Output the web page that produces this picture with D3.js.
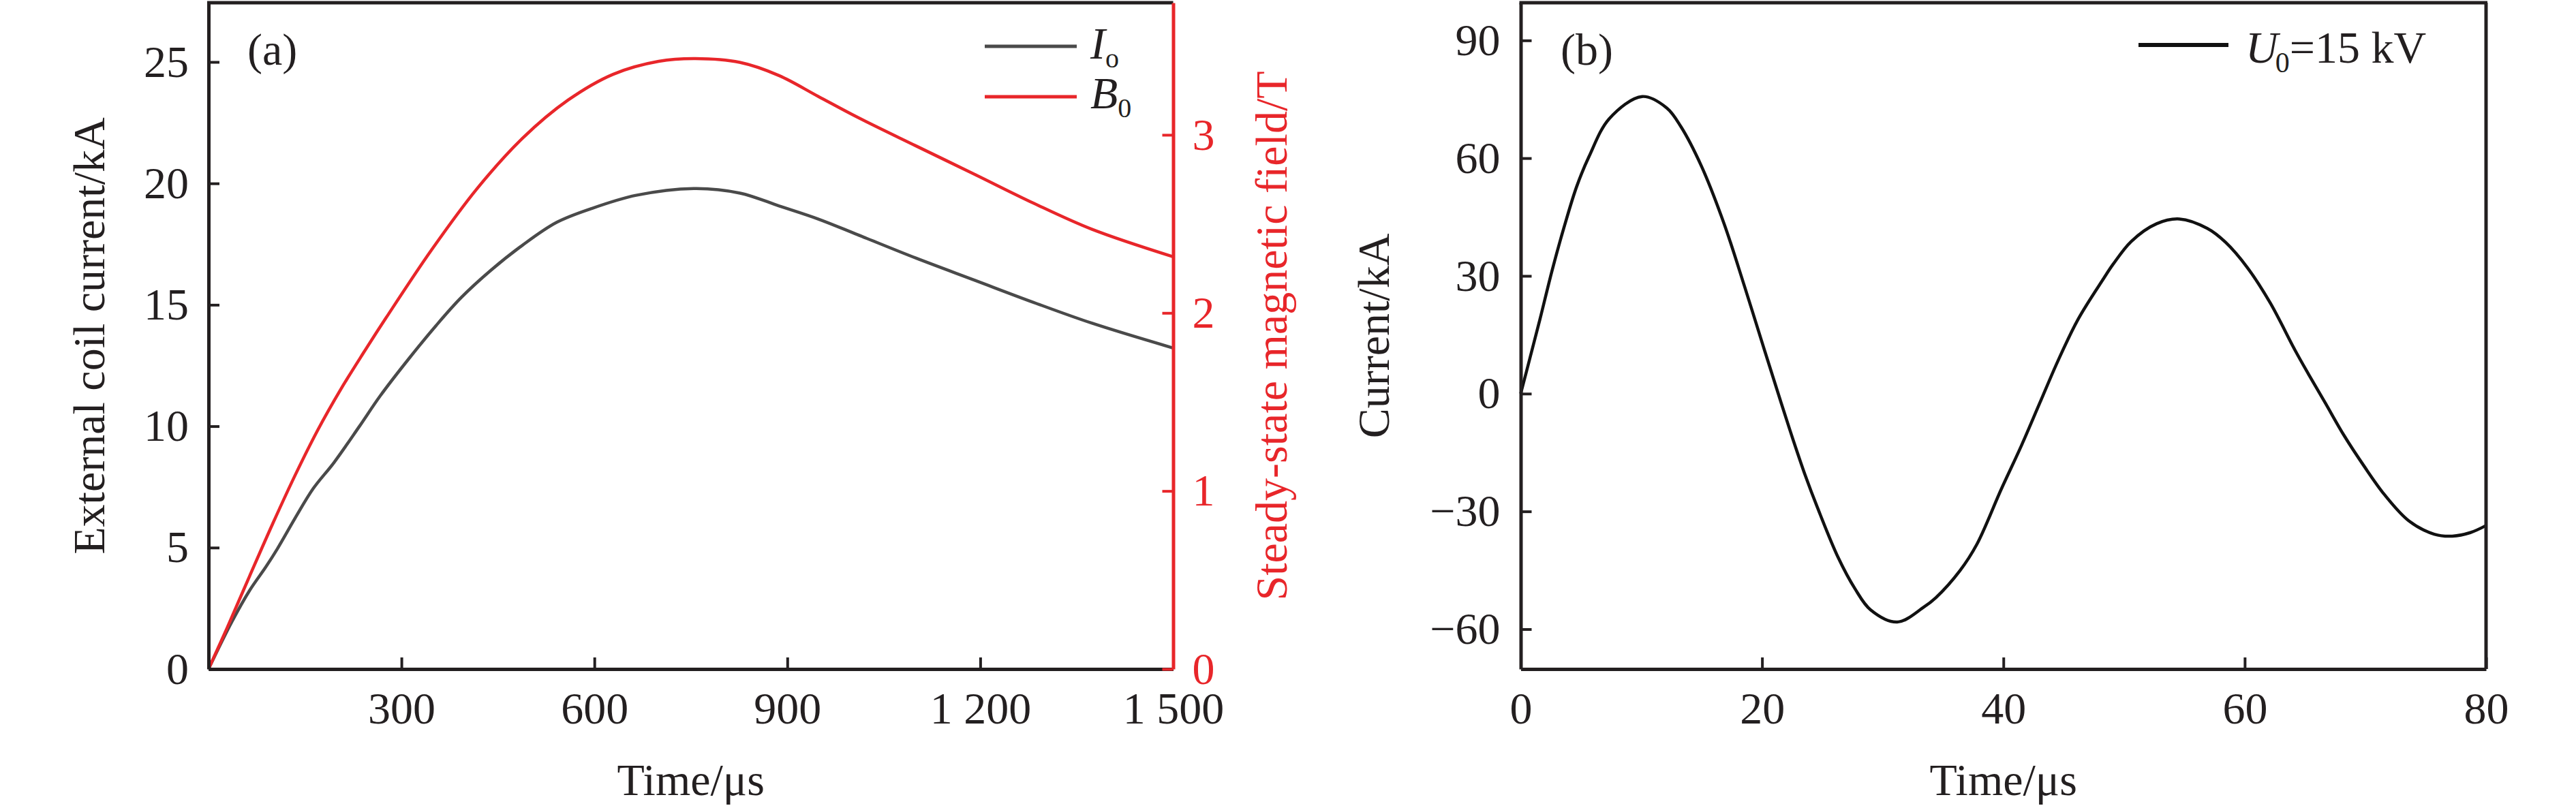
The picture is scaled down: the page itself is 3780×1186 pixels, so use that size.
<!DOCTYPE html>
<html>
<head>
<meta charset="utf-8">
<script src="https://cdn.jsdelivr.net/npm/d3@7"></script>
<style>
  html, body { margin: 0; padding: 0; background: #fff; }
  svg { display: block; }
  text { font-family: "Liberation Serif", "Times New Roman", serif; }
</style>
</head>
<body>
<svg id="chart" width="3780" height="1186"></svg>
<script>
// ---------- Data: panel (a) ----------
const ioTime = [0, 36, 64, 89, 107, 135, 163, 195, 234, 267, 311.5, 354, 393, 439, 488, 541, 594, 665, 757, 826.5, 887.4, 948.3, 1009, 1100.3, 1191.5, 1282.8, 1374, 1500];
const ioValues = [0, 1.93, 3.24, 4.2, 4.95, 6.23, 7.44, 8.5, 9.97, 11.25, 12.78, 14.15, 15.3, 16.42, 17.45, 18.39, 18.95, 19.51, 19.79, 19.6, 19.07, 18.53, 17.89, 16.92, 16.01, 15.1, 14.24, 13.22];
const bTime = [0, 29, 64, 100, 135, 170, 206, 241, 276, 347, 418, 488, 559, 629, 700, 757, 826, 887, 948, 1009, 1100, 1192, 1283, 1374, 1500];
const bValues = [0, 0.232, 0.523, 0.818, 1.091, 1.343, 1.573, 1.776, 1.972, 2.355, 2.70, 2.98, 3.195, 3.34, 3.413, 3.428, 3.407, 3.333, 3.216, 3.099, 2.938, 2.777, 2.616, 2.469, 2.315];
const xTicksA = [300, 600, 900, 1200, 1500];
const xTickLabelsA = ["300", "600", "900", "1 200", "1 500"];
const yTicksA = [0, 5, 10, 15, 20, 25];
const yTicksB0 = [0, 1, 2, 3];

// ---------- Data: panel (b) ----------
const uTime = [0, 0.75, 1.59, 2.61, 3.63, 4.64, 5.66, 7.35, 10.06, 12.1, 13.28, 14.97, 16.83, 18.53, 20.22, 21.6, 22.6, 23.6, 24.6, 26.3, 27.7, 29.0, 31.2, 33.4, 34.4, 36.4, 37.8, 39.8, 41.5, 43.0, 44.5, 46.2, 48.3, 49.1, 50.6, 52.7, 54.6, 56.9, 58.4, 60.2, 62.1, 64.2, 65.3, 66.7, 68.2, 69.9, 71.6, 73.6, 75.7, 77.2, 78.7, 80];
const uCurrent = [0, 8.9, 18.9, 31.5, 42.8, 52.8, 60.4, 70.1, 75.7, 72.8, 68.0, 58.0, 43.5, 27.5, 10.9, -2.5, -12.0, -21.0, -29.1, -41.7, -49.7, -55.1, -58.2, -54.4, -52.0, -45.1, -38.4, -24.5, -13.2, -2.5, 8.2, 19.0, 29.3, 33.0, 38.8, 43.3, 44.5, 42.1, 38.6, 32.2, 23.2, 10.9, 4.9, -2.5, -10.5, -18.5, -25.8, -32.4, -35.8, -36.3, -35.4, -33.6];
const xTicksB = [0, 20, 40, 60, 80];
const yTicksB = [-60, -30, 0, 30, 60, 90];
const yTickLabelsB = ["\u221260", "\u221230", "0", "30", "60", "90"];

// ---------- Styles ----------
const RED = "#e8262a", GRAY = "#4a4a4a", BLACK = "#231f20";
const FS = 66;

const svg = d3.select("#chart");

function styleAxis(g, color) {
  g.select(".domain").attr("stroke", color).attr("stroke-width", 5);
  g.selectAll(".tick line").attr("stroke", color).attr("stroke-width", 4);
  g.selectAll(".tick text").attr("fill", color).attr("font-size", FS)
    .attr("font-family", "Liberation Serif, Times New Roman, serif");
}

// ================= Panel (a) =================
const A = { left: 306, right: 1721.5, top: 4, bottom: 982 };
const xA = d3.scaleLinear().domain([0, 1500]).range([A.left, A.right]);
const yA = d3.scaleLinear().domain([0, 27.44]).range([A.bottom, A.top]);
const yB0 = d3.scaleLinear().domain([0, 3.742]).range([A.bottom, A.top]);

const lineIo = d3.line().x((d, i) => xA(ioTime[i])).y(d => yA(d)).curve(d3.curveCatmullRom.alpha(0.5));
const lineB0 = d3.line().x((d, i) => xA(bTime[i])).y(d => yB0(d)).curve(d3.curveCatmullRom.alpha(0.5));

svg.append("path").attr("d", lineIo(ioValues)).attr("fill", "none").attr("stroke", GRAY).attr("stroke-width", 4.5);
svg.append("path").attr("d", lineB0(bValues)).attr("fill", "none").attr("stroke", RED).attr("stroke-width", 4.5);

// top frame
svg.append("line").attr("x1", A.left - 2).attr("x2", A.right).attr("y1", A.top).attr("y2", A.top)
  .attr("stroke", BLACK).attr("stroke-width", 5);

const gxA = svg.append("g").attr("transform", `translate(0,${A.bottom})`)
  .call(d3.axisBottom(xA).tickValues(xTicksA).tickFormat((d, i) => xTickLabelsA[i])
    .tickSizeInner(-17).tickSizeOuter(0).tickPadding(33));
styleAxis(gxA, BLACK);

const gyA = svg.append("g").attr("transform", `translate(${A.left},0)`)
  .call(d3.axisLeft(yA).tickValues(yTicksA).tickFormat(d3.format("d"))
    .tickSizeInner(-16).tickSizeOuter(0).tickPadding(29));
styleAxis(gyA, BLACK);

const gyB0 = svg.append("g").attr("transform", `translate(${A.right},0)`)
  .call(d3.axisRight(yB0).tickValues(yTicksB0).tickFormat(d3.format("d"))
    .tickSizeInner(-16).tickSizeOuter(0).tickPadding(28));
styleAxis(gyB0, RED);

// axis titles (a)
svg.append("text").attr("transform", `translate(153,${(A.top + A.bottom) / 2}) rotate(-90)`)
  .attr("text-anchor", "middle").attr("font-size", FS).attr("fill", BLACK)
  .text("External coil current/kA");
svg.append("text").attr("transform", `translate(1888,${(A.top + A.bottom) / 2}) rotate(-90)`)
  .attr("text-anchor", "middle").attr("font-size", FS).attr("fill", RED)
  .text("Steady-state magnetic field/T");
svg.append("text").attr("x", (A.left + A.right) / 2).attr("y", 1167)
  .attr("text-anchor", "middle").attr("font-size", FS).attr("fill", BLACK)
  .text("Time/\u03bcs");
svg.append("text").attr("x", 363).attr("y", 95).attr("font-size", FS).attr("fill", BLACK).text("(a)");

// legend (a)
const legA = [
  { label: "I", sub: "o", color: GRAY, y: 68, base: 86 },
  { label: "B", sub: "0", color: RED, y: 142, base: 159 }
];
legA.forEach(l => {
  svg.append("line").attr("x1", 1445).attr("x2", 1580).attr("y1", l.y).attr("y2", l.y)
    .attr("stroke", l.color).attr("stroke-width", 5);
  const t = svg.append("text").attr("x", 1600).attr("y", l.base).attr("font-size", FS).attr("fill", BLACK);
  t.append("tspan").attr("font-style", "italic").text(l.label);
  t.append("tspan").attr("font-size", 40).attr("dy", 13).text(l.sub);
});

// ================= Panel (b) =================
const B = { left: 2231.5, right: 3648, top: 4, bottom: 982 };
const xB = d3.scaleLinear().domain([0, 80]).range([B.left, B.right]);
const yB = d3.scaleLinear().domain([-70.16, 99.6]).range([B.bottom, B.top]);

const lineU = d3.line().x((d, i) => xB(uTime[i])).y(d => yB(d)).curve(d3.curveCatmullRom.alpha(0.5));
svg.append("path").attr("d", lineU(uCurrent)).attr("fill", "none").attr("stroke", "#111").attr("stroke-width", 4.5);

// frame top & right
svg.append("line").attr("x1", B.left - 2).attr("x2", B.right + 2).attr("y1", B.top).attr("y2", B.top)
  .attr("stroke", BLACK).attr("stroke-width", 5);
svg.append("line").attr("x1", B.right).attr("x2", B.right).attr("y1", B.top).attr("y2", B.bottom)
  .attr("stroke", BLACK).attr("stroke-width", 5);

const gxB = svg.append("g").attr("transform", `translate(0,${B.bottom})`)
  .call(d3.axisBottom(xB).tickValues(xTicksB).tickFormat(d3.format("d"))
    .tickSizeInner(-17).tickSizeOuter(0).tickPadding(33));
styleAxis(gxB, BLACK);

const gyB = svg.append("g").attr("transform", `translate(${B.left},0)`)
  .call(d3.axisLeft(yB).tickValues(yTicksB).tickFormat((d, i) => yTickLabelsB[i])
    .tickSizeInner(-16).tickSizeOuter(0).tickPadding(30));
styleAxis(gyB, BLACK);

svg.append("text").attr("transform", `translate(2038,${(B.top + B.bottom) / 2}) rotate(-90)`)
  .attr("text-anchor", "middle").attr("font-size", FS).attr("fill", BLACK)
  .text("Current/kA");
svg.append("text").attr("x", (B.left + B.right) / 2).attr("y", 1167)
  .attr("text-anchor", "middle").attr("font-size", FS).attr("fill", BLACK)
  .text("Time/\u03bcs");
svg.append("text").attr("x", 2290).attr("y", 95).attr("font-size", FS).attr("fill", BLACK).text("(b)");

// legend (b)
svg.append("line").attr("x1", 3138).attr("x2", 3270).attr("y1", 66).attr("y2", 66)
  .attr("stroke", "#111").attr("stroke-width", 6);
const tU = svg.append("text").attr("x", 3295).attr("y", 92).attr("font-size", FS).attr("fill", BLACK);
tU.append("tspan").attr("font-style", "italic").text("U");
tU.append("tspan").attr("font-size", 42).attr("dy", 14).attr("dx", -4).text("0");
tU.append("tspan").attr("dy", -14).text("=15 kV");
</script>
</body>
</html>
